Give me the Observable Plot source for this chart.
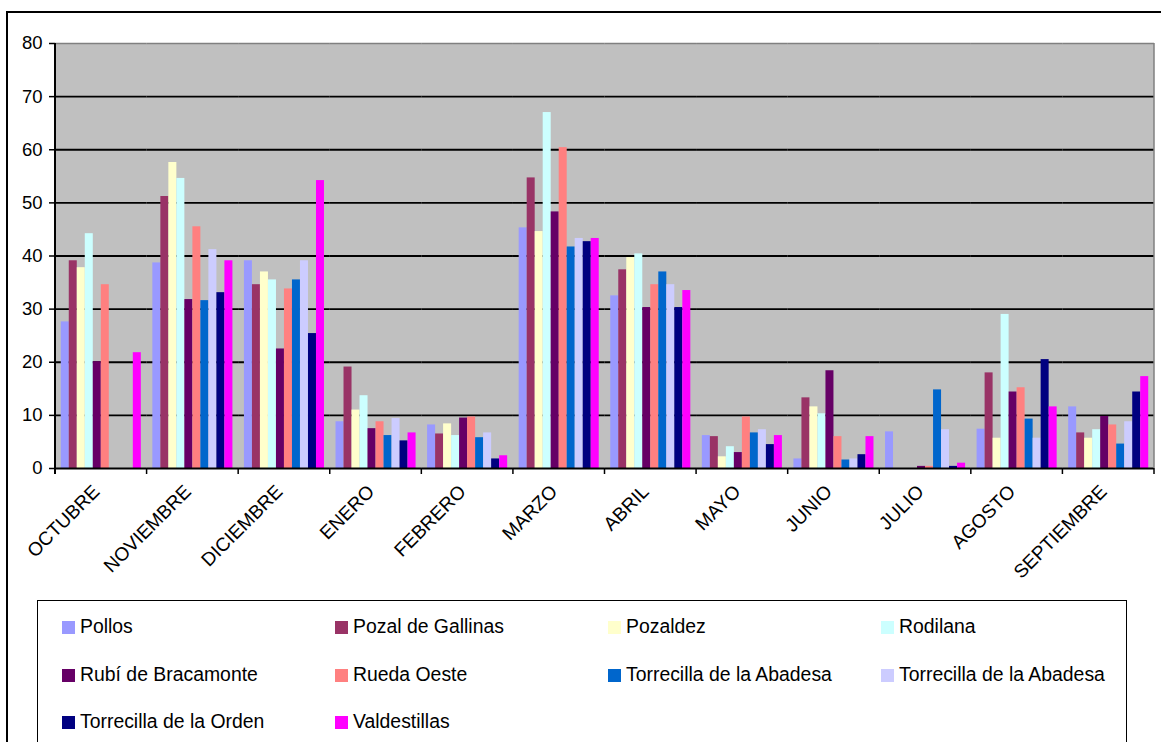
<!DOCTYPE html>
<html><head><meta charset="utf-8">
<script src="https://cdn.jsdelivr.net/npm/d3@7"></script>
<script src="https://cdn.jsdelivr.net/npm/@observablehq/plot@0.6"></script>
<style>
body{margin:0;background:#fff;font-family:"Liberation Sans",Arial,sans-serif;}
#wrap{position:relative;width:1161px;height:742px;overflow:hidden;background:#fff;}
#border{position:absolute;left:6px;top:11px;width:1200px;height:800px;border:2px solid #000;}
#chart{position:absolute;left:0;top:0;}
#legend{position:absolute;left:37px;top:600px;width:1088px;height:200px;border:1.5px solid #000;background:#fff;}
.item{position:absolute;display:flex;align-items:center;font-size:19.4px;color:#000;white-space:nowrap;line-height:1;}
.sw{width:13px;height:13px;margin-right:5px;flex:none;}
</style></head>
<body><div id="wrap"><div id="border"></div><div id="chart"></div><div id="legend"></div></div>
<script>
const months = ["OCTUBRE","NOVIEMBRE","DICIEMBRE","ENERO","FEBRERO","MARZO","ABRIL","MAYO","JUNIO","JULIO","AGOSTO","SEPTIEMBRE"];
const seriesNames = ["Pollos","Pozal de Gallinas","Pozaldez","Rodilana","Rubí de Bracamonte","Rueda Oeste","Torrecilla de la Abadesa","Torrecilla de la Abadesa","Torrecilla de la Orden","Valdestillas"];
const seriesColors = ["#9999FF","#993366","#FFFFCC","#CCFFFF","#660066","#FF8080","#0066CC","#CCCCFF","#000080","#FF00FF"];
const yTicks = [0,10,20,30,40,50,60,70,80];

const pollos       = [27.6, 38.7, 39.1, 8.8, 8.2, 45.3, 32.5, 6.2, 1.8, 6.9, 7.4, 11.6];
const pozal        = [39.1, 51.2, 34.6, 19.1, 6.5, 54.7, 37.4, 6.0, 13.3, null, 18.0, 6.7];
const pozaldez     = [37.8, 57.6, 37.0, 11.0, 8.4, 44.6, 39.7, 2.2, 11.6, null, 5.7, 5.7];
const rodilana     = [44.2, 54.6, 35.5, 13.7, 6.2, 67.0, 40.4, 4.1, 10.3, null, 29.0, 7.3];
const rubi         = [20.1, 31.8, 22.5, 7.5, 9.5, 48.3, 30.3, 3.0, 18.4, 0.4, 14.4, 9.8];
const rueda        = [34.6, 45.5, 33.8, 8.8, 9.7, 60.4, 34.6, 9.7, 6.0, 0.4, 15.2, 8.2];
const torrAbadesa  = [null, 31.6, 35.5, 6.2, 5.8, 41.7, 37.0, 6.7, 1.6, 14.8, 9.3, 4.6];
const torrAbadesa2 = [null, 41.2, 39.1, 9.4, 6.7, 43.3, 34.6, 7.3, 1.8, 7.3, 5.7, 8.8];
const torrOrden    = [null, 33.1, 25.4, 5.2, 1.8, 42.7, 30.3, 4.5, 2.6, 0.4, 20.5, 14.4];
const valdestillas = [21.8, 39.1, 54.2, 6.7, 2.4, 43.3, 33.5, 6.2, 6.0, 1.0, 11.6, 17.3];

const values = [pollos, pozal, pozaldez, rodilana, rubi, rueda, torrAbadesa, torrAbadesa2, torrOrden, valdestillas];

const rows = [];
months.forEach((m, j) => values.forEach((arr, i) => {
  if (arr[j] != null) rows.push({month: m, key: i, value: arr[j]});
}));

const font = '"Liberation Sans", Arial, sans-serif';
const plot = Plot.plot({
  width: 1161, height: 600,
  marginTop: 43, marginLeft: 55, marginRight: 7, marginBottom: 132,
  style: {fontFamily: font, fontSize: "18px", color: "#000", background: "transparent", overflow: "visible"},
  fx: {domain: months, padding: 0, round: false, label: null},
  x: {domain: d3.range(10), paddingInner: 0, paddingOuter: 0.72, round: false, axis: null},
  y: {domain: [0, 80], label: null, axis: null},
  marks: [
    Plot.gridY(yTicks.filter(t => t > 0 && t < 80), {stroke: "#000", strokeOpacity: 1, strokeWidth: 1.8}),
    Plot.ruleY([80], {stroke: "#808080", strokeWidth: 1.5}),
    Plot.barY(rows, {fx: "month", x: "key", y: "value", fill: d => seriesColors[d.key], inset: 0}),
    Plot.ruleY([0], {stroke: "#000", strokeWidth: 2}),
    Plot.axisY({ticks: yTicks, tickSize: 6, tickPadding: 7, fontSize: 18.5, label: null, stroke: "#000", strokeWidth: 1.5}),
    Plot.axisFx({anchor: "bottom", tickSize: 0, tickRotate: -45, tickPadding: 20, dx: -5, fontSize: 19, label: null})
  ]
});
document.getElementById("chart").appendChild(plot);

// plot-area background, axis line, right border and category boundary ticks from the scales
const fx = plot.scale("fx"), y = plot.scale("y");
const y0 = y.apply(0), y80 = y.apply(80);
const bounds = months.map(m => fx.apply(m)).concat([fx.apply(months[months.length - 1]) + fx.bandwidth]);
const left = bounds[0], right = bounds[bounds.length - 1];
const svg = d3.select(plot);
svg.insert("rect", ":first-child").attr("x", left).attr("y", y80).attr("width", right - left).attr("height", y0 - y80).attr("fill", "#C0C0C0");
const g = svg.append("g");
g.append("line").attr("x1", right).attr("x2", right).attr("y1", y80).attr("y2", y0).attr("stroke", "#808080").attr("stroke-width", 1.5);
g.append("line").attr("x1", left).attr("x2", left).attr("y1", y80).attr("y2", y0 + 6).attr("stroke", "#000").attr("stroke-width", 2);
g.selectAll("line.tk").data(bounds).join("line").attr("class", "tk")
  .attr("x1", d => d).attr("x2", d => d).attr("y1", y0).attr("y2", y0 + 6)
  .attr("stroke", "#000").attr("stroke-width", 1.5);

// legend
const legCols = [24, 297, 570, 843];
const legRows = [26, 74, 121];
const legend = document.getElementById("legend");
seriesNames.forEach((name, i) => {
  const it = document.createElement("div");
  it.className = "item";
  it.style.left = legCols[i % 4] + "px";
  it.style.top = (legRows[Math.floor(i / 4)] - 10) + "px";
  it.style.height = "20px";
  it.innerHTML = `<span class="sw" style="background:${seriesColors[i]}"></span><span>${name}</span>`;
  legend.appendChild(it);
});
</script>
</body></html>
